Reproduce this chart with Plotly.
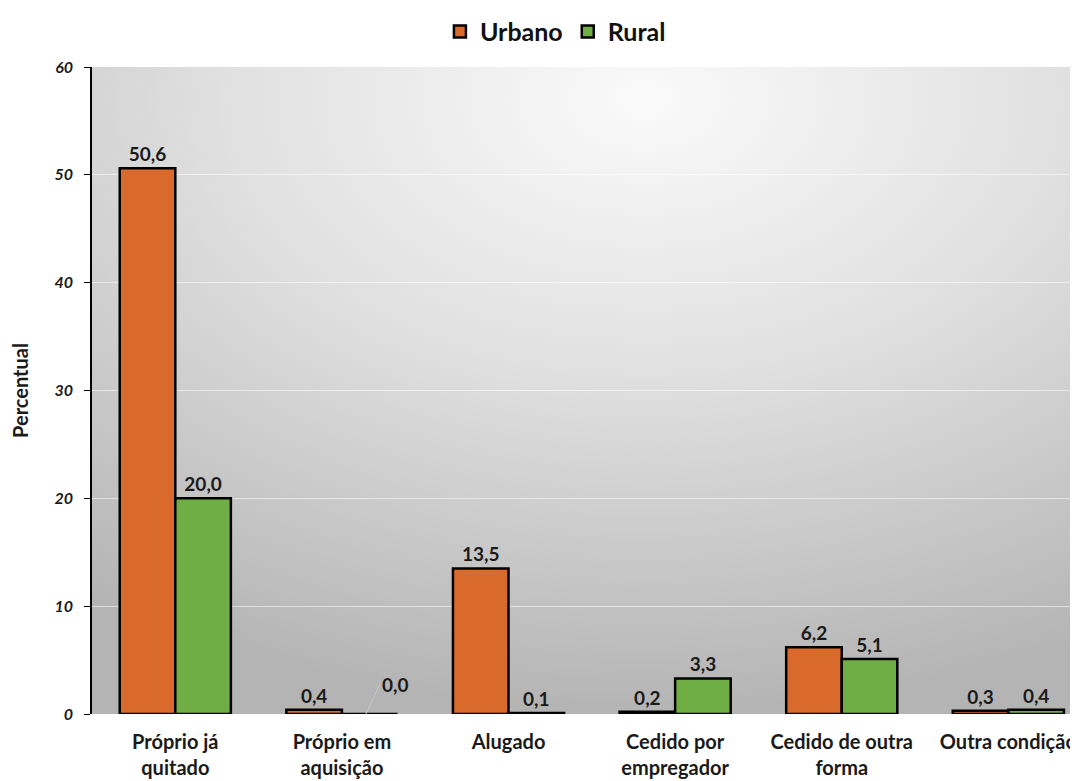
import base64
import plotly.graph_objects as go

# dados
categorias = ["Próprio já<br>quitado", "Próprio em<br>aquisição", "Alugado",
              "Cedido por<br>empregador", "Cedido de outra<br>forma", "Outra condição"]
urbano = [50.6, 0.4, 13.5, 0.2, 6.2, 0.3]
rural = [20.0, 0.0, 0.1, 3.3, 5.1, 0.4]


def fmt(v):
    return f"{v:.1f}".replace(".", ",")


FONTE = "Lato, 'Open Sans', sans-serif"

# fundo cinza com gradiente (imagem svg atrás da área do gráfico)
svg = (
    "<svg xmlns='http://www.w3.org/2000/svg' width='100' height='100' preserveAspectRatio='none'>"
    "<defs><radialGradient id='g' cx='0.56' cy='0.05' r='0.95'>"
    "<stop offset='0' stop-color='#fafafa'/>"
    "<stop offset='0.45' stop-color='#e0e0e0'/>"
    "<stop offset='1' stop-color='#b4b4b4'/>"
    "</radialGradient></defs>"
    "<rect width='100' height='100' fill='url(#g)'/></svg>"
)
fundo = "data:image/svg+xml;base64," + base64.b64encode(svg.encode()).decode()

fig = go.Figure()

fig.add_trace(go.Bar(
    x=categorias, y=urbano, name="Urbano",
    marker=dict(color="#d96a2b", line=dict(color="black", width=2.5)),
    text=[fmt(v) for v in urbano], textposition="outside",
    textfont=dict(family=FONTE, size=19, color="#1a1a1a"),
    cliponaxis=False,
))

# o rótulo 0,0 vai como anotação com linha de chamada
rural_txt = [fmt(v) if v > 0 else "" for v in rural]
fig.add_trace(go.Bar(
    x=categorias, y=rural, name="Rural",
    marker=dict(color="#6fae45", line=dict(color="black", width=2.5)),
    text=rural_txt, textposition="outside",
    textfont=dict(family=FONTE, size=19, color="#1a1a1a"),
    cliponaxis=False,
))

for cat, v in zip(categorias, rural):
    if v == 0:
        fig.add_annotation(
            x=cat, y=v, xshift=24, ax=14, ay=-30,
            text="<b>" + fmt(v) + "</b>", showarrow=True, arrowhead=0,
            arrowwidth=1, arrowcolor="#c8c8c8", xanchor="left",
            font=dict(family=FONTE, size=19, color="#1a1a1a"),
        )

fig.update_traces(texttemplate="<b>%{text}</b>")

# a página tem 8px de margem no body; a figura é reduzida para caber
fig.update_layout(
    width=1070, height=773,
    margin=dict(l=84, r=0, t=59, b=67),
    paper_bgcolor="white",
    plot_bgcolor="rgba(0,0,0,0)",
    barmode="group", bargap=0.333, bargroupgap=0,
    font=dict(family=FONTE, color="#1a1a1a"),
    legend=dict(
        orientation="h", x=0.47, xanchor="center", y=1.09, yanchor="top",
        font=dict(family=FONTE, size=25, color="#111", weight="bold"),
        itemwidth=30, tracegroupgap=0,
    ),
    images=[dict(
        source=fundo, xref="paper", yref="paper", x=0, y=1,
        sizex=1, sizey=1, sizing="stretch", layer="below",
    )],
)

fig.update_xaxes(
    range=[-0.5, 5.418], showline=False, showgrid=False, ticks="",
    tickfont=dict(family=FONTE, size=20, color="#1a1a1a", weight="bold"),
    ticklabelstandoff=14, automargin=False,
)
fig.update_yaxes(
    range=[0, 60], dtick=10, showline=True, linecolor="black", linewidth=1.5,
    ticks="outside", ticklen=6, tickcolor="black",
    showgrid=True, gridcolor="rgba(255,255,255,0.55)", gridwidth=1,
    zeroline=False, automargin=False, ticklabelstandoff=8,
    tickfont=dict(family=FONTE, size=16, color="#1a1a1a", style="italic", weight="bold"),
    title=dict(text="<b>Percentual</b>", font=dict(family=FONTE, size=20), standoff=32),
)

fig.write_html("out.html")
